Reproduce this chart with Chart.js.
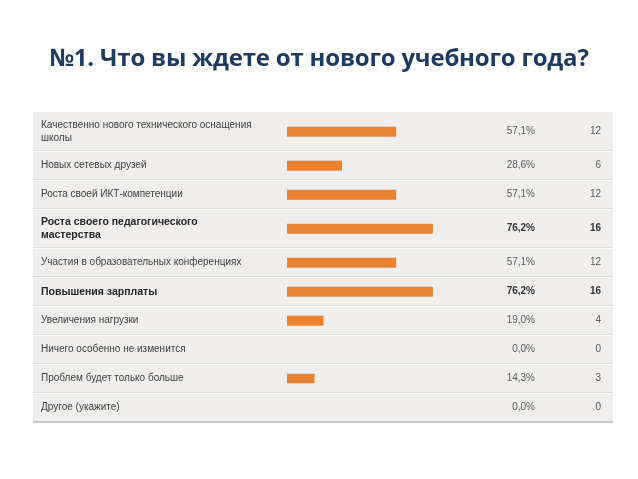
<!DOCTYPE html>
<html>
<head>
<meta charset="utf-8">
<script src="https://cdn.jsdelivr.net/npm/chart.js@4"></script>
<style>
  html, body { margin: 0; padding: 0; background: #ffffff; }
  #wrap { position: relative; width: 638px; height: 479px; }
  #title {
    position: absolute; left: 0; top: 40px; width: 638px; text-align: center;
    font-family: "Open Sans", sans-serif; font-weight: bold; font-size: 24px;
    color: #1f3a60; letter-spacing: -0.2px;
  }
</style>
</head>
<body>
<div id="wrap">
  <div id="title">№1. Что вы ждете от нового учебного года?</div>
  <canvas id="surveyChart" width="638" height="479"></canvas>
</div>
<script>

// варианты ответа
const categories = [
    ['Качественно нового технического оснащения', 'школы'],
    ['Новых сетевых друзей'],
    ['Роста своей ИКТ-компетенции'],
    ['Роста своего педагогического', 'мастерства'],
    ['Участия в образовательных конференциях'],
    ['Повышения зарплаты'],
    ['Увеличения нагрузки'],
    ['Ничего особенно не изменится'],
    ['Проблем будет только больше'],
    ['Другое (укажите)']
];

// проценты
const percents = [57.1, 28.6, 57.1, 76.2, 57.1, 76.2, 19.0, 0.0, 14.3, 0.0];

// количество ответов
const counts = [12, 6, 12, 16, 12, 16, 4, 0, 3, 0];

// высота строки зависит от числа строк в подписи
const rowUnits = categories.map(c => c.length > 1 ? 1.35 : 1);
const rowStart = [];
let acc = 0;
rowUnits.forEach(u => { rowStart.push(acc); acc += u; });
const totalUnits = acc;
const rowCenter = rowStart.map((s, i) => s + rowUnits[i] / 2);
const maxCount = Math.max(...counts);

const fmt = v => v.toFixed(1).replace('.', ',') + '%';

const tablePlugin = {
    id: 'tablePlugin',
    beforeDraw(chart) {
        const ctx = chart.ctx;
        const area = chart.chartArea;
        const y = chart.scales.y;
        const left = area.left - 254;
        const right = area.right + 135;
        ctx.save();
        ctx.fillStyle = '#ffffff';
        ctx.fillRect(0, 0, chart.width, chart.height);
        ctx.fillStyle = '#efeeec';
        ctx.fillRect(left, area.top, right - left, area.bottom - area.top);
        // разделители строк
        for (let i = 1; i < rowStart.length; i++) {
            const py = Math.round(y.getPixelForValue(rowStart[i]));
            ctx.fillStyle = '#dddcda';
            ctx.fillRect(left, py - 1, right - left, 1);
            ctx.fillStyle = '#fbfbfa';
            ctx.fillRect(left, py, right - left, 1);
        }
        ctx.fillStyle = '#c9c8c6';
        ctx.fillRect(left, Math.round(area.bottom) - 1, right - left, 2);
        ctx.restore();
    },
    afterDatasetsDraw(chart) {
        const ctx = chart.ctx;
        const area = chart.chartArea;
        const y = chart.scales.y;
        ctx.save();
        ctx.textBaseline = 'middle';
        categories.forEach((lines, i) => {
            const strong = counts[i] === maxCount;
            const cy = y.getPixelForValue(rowCenter[i]);
            ctx.fillStyle = strong ? '#262626' : '#404040';
            ctx.font = (strong ? 'bold 10.5px' : '10px') + ' "Liberation Sans", Arial, sans-serif';
            ctx.textAlign = 'left';
            const lh = 12.5;
            const y0 = cy - (lines.length - 1) * lh / 2;
            lines.forEach((t, k) => ctx.fillText(t, area.left - 246, y0 + k * lh));

            ctx.font = (strong ? 'bold 10px' : '10px') + ' "Liberation Sans", Arial, sans-serif';
            ctx.fillStyle = strong ? '#333333' : '#5a5a5a';
            ctx.textAlign = 'right';
            ctx.fillText(fmt(percents[i]), area.right + 57, cy);
            ctx.fillText(String(counts[i]), area.right + 123, cy);
        });
        ctx.restore();
    }
};

const surveyCtx = document.getElementById('surveyChart');

new Chart(surveyCtx, {
    type: 'bar',
    data: {
        datasets: [{
            label: 'Проценты',
            data: percents.map((p, i) => ({ x: p, y: rowCenter[i] })),
            backgroundColor: '#e98332',
            borderColor: '#d9742a',
            borderWidth: 0.5,
            barThickness: 9.5,
            borderSkipped: false
        }]
    },
    options: {
        indexAxis: 'y',
        responsive: false,
        devicePixelRatio: 1,
        animation: false,
        layout: {
            padding: { left: 287, right: 160, top: 112, bottom: 57 }
        },
        scales: {
            x: { type: 'linear', min: 0, max: 100, display: false },
            y: { type: 'linear', min: 0, max: totalUnits, reverse: true, offset: false, display: false }
        },
        plugins: {
            legend: { display: false },
            tooltip: { enabled: false }
        }
    },
    plugins: [tablePlugin]
});

</script>
</body>
</html>
